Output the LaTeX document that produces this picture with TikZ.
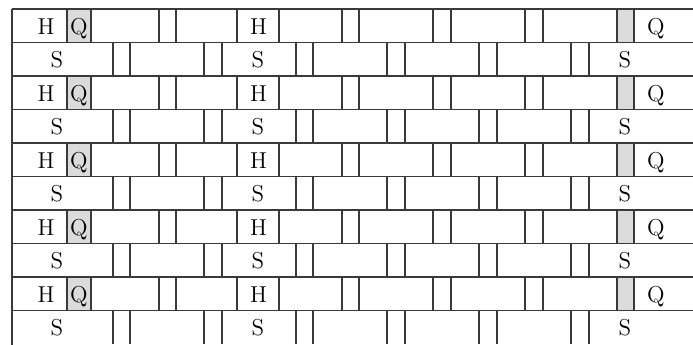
\documentclass[tikz,border=0pt]{standalone}
\definecolor{gridline}{HTML}{3A3A3A}
\definecolor{qfill}{HTML}{DBDBDB}
\tikzset{
  cellline/.style={draw=gridline, line width=0.6pt},
  lbl/.style={anchor=base, inner sep=0pt, text=black, font=\fontsize{11.5}{13}\selectfont},
}
\begin{document}
\begin{tikzpicture}[x=0.5pt,y=-0.5pt]
\useasboundingbox (0,0) rectangle (693,344);
\clip (0,0) rectangle (693,344);
\foreach \r in {0,...,4} {
  \pgfmathsetmacro\yt{9+67*\r}
  \pgfmathsetmacro\ym{\yt+33.5}
  \pgfmathsetmacro\yb{\yt+67}
  \fill[qfill] (67,\yt) rectangle (91,\ym);
  \fill[qfill] (617,\yt) rectangle (634,\ym);
  \foreach \x in {67,91,159,176,237,279,342,359,433,451,525,543,617,634}
    \draw[cellline] (\x,\yt) -- (\x,\ym);
  \foreach \x in {113,130,204,222,296,313,387,405,479,497,571,589}
    \draw[cellline] (\x,\ym) -- (\x,\yb);
  \node[lbl] (h1-\r) at (46,\yt+25.3) {H};
  \node[lbl] (q1-\r) at (79,\yt+25.3) {Q};
  \node[lbl] (h2-\r) at (258.5,\yt+25.3) {H};
  \node[lbl] (q2-\r) at (656,\yt+25.3) {Q};
  \node[lbl] (s1-\r) at (57,\ym+25.3) {S};
  \node[lbl] (s2-\r) at (258,\ym+25.3) {S};
  \node[lbl] (s3-\r) at (625,\ym+25.3) {S};
}
\foreach \k in {0,...,9}
  \draw[cellline] (12,9+33.5*\k) -- (700,9+33.5*\k);
\draw[cellline] (12,9) -- (12,350);
\end{tikzpicture}
\end{document}
